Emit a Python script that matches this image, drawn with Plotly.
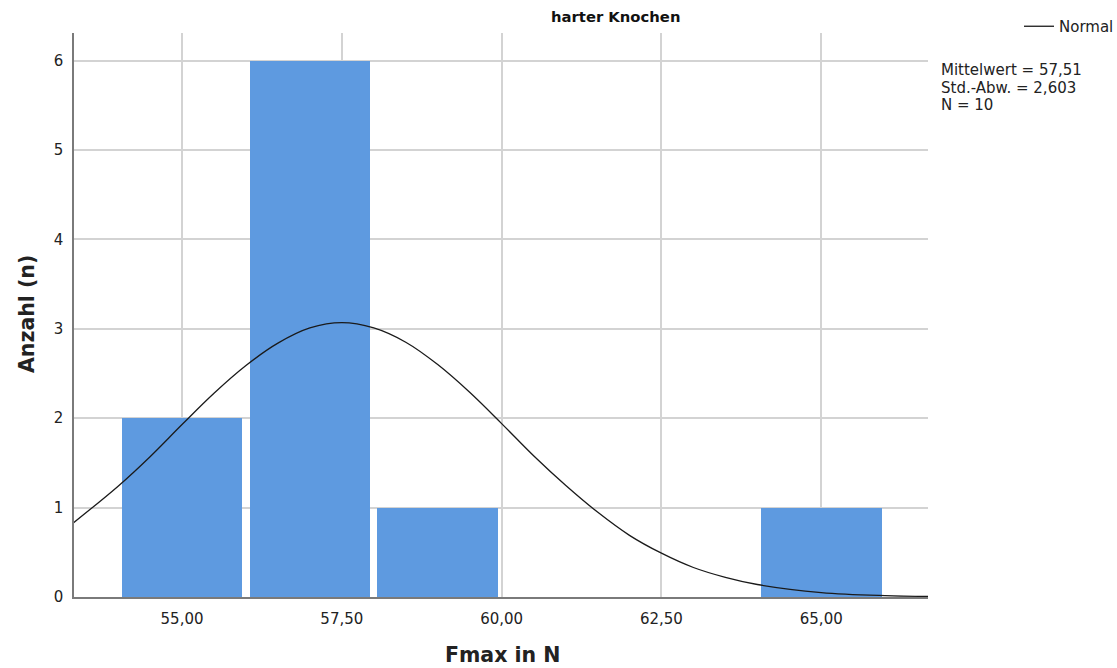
import plotly.graph_objects as go

# Histogram bins (Fmax in N) and counts
bin_centers = [55.0, 57.0, 59.0, 65.0]
counts = [2, 6, 1, 1]
bin_width = 2.0

# Normal curve
curve_x = [53.3, 54.0, 54.5, 55.0, 55.5, 56.0, 56.5, 57.0, 57.5, 58.0, 58.5, 59.0,
           59.5, 60.0, 60.5, 61.0, 61.5, 62.0, 62.5, 63.0, 63.5, 64.0, 65.0, 66.0, 66.7]
curve_y = [0.83, 1.24, 1.57, 1.93, 2.28, 2.59, 2.84, 3.01, 3.07, 3.01, 2.85, 2.60,
           2.29, 1.94, 1.58, 1.25, 0.95, 0.69, 0.49, 0.33, 0.22, 0.14, 0.05, 0.015, 0.006]

x_ticks = [55.0, 57.5, 60.0, 62.5, 65.0]
y_ticks = [0, 1, 2, 3, 4, 5, 6]
stats_lines = ["Mittelwert = 57,51", "Std.-Abw. = 2,603", "N = 10"]

FONT = "DejaVu Sans"
W, H = 1117, 668
L, R, T, B = 74, 189, 33, 71
PW, PH = W - L - R, H - T - B


def px(xp):
    return (xp - L) / PW


def py(yp):
    return (H - B - yp) / PH


fig = go.Figure()
fig.add_trace(go.Bar(
    x=bin_centers, y=counts, width=[bin_width * 0.944] * len(counts),
    marker=dict(color="#5E9AE0", line=dict(width=0)),
    showlegend=False, hoverinfo="skip",
))
fig.add_trace(go.Scatter(
    x=curve_x, y=curve_y, mode="lines", name="Normal",
    line=dict(color="#1a1a1a", width=1.3, shape="spline", smoothing=1.0),
))

annotations = [
    dict(text="<b>harter Knochen</b>", x=px(615), xref="paper", y=py(17), yref="paper",
         xanchor="center", yanchor="middle", showarrow=False,
         font=dict(family=FONT, size=14.8, color="#111")),
    dict(text="<b>Fmax in N</b>", x=px(502), xref="paper", y=py(655), yref="paper",
         xanchor="center", yanchor="middle", showarrow=False,
         font=dict(family=FONT, size=20.5, color="#222")),
    dict(text="<b>Anzahl (n)</b>", x=px(27), xref="paper", y=py(314), yref="paper",
         xanchor="center", yanchor="middle", textangle=-90, showarrow=False,
         font=dict(family=FONT, size=20.5, color="#222")),
]
for i, line in enumerate(stats_lines):
    annotations.append(dict(
        text=line, x=px(939), xref="paper", y=py(70 + 17.6 * i), yref="paper",
        xanchor="left", yanchor="middle", align="left", showarrow=False,
        font=dict(family=FONT, size=15, color="#222")))

fig.update_layout(
    width=W, height=H,
    margin=dict(l=L, r=R, t=T, b=B, autoexpand=False),
    paper_bgcolor="white", plot_bgcolor="white",
    separators=",.",
    font=dict(family=FONT, size=12, color="#222"),
    bargap=0,
    legend=dict(x=px(1019), y=py(10), xanchor="left", yanchor="top",
                font=dict(family=FONT, size=15, color="#222"),
                bgcolor="rgba(0,0,0,0)", itemwidth=30),
    xaxis=dict(range=[53.31, 66.67], tickvals=x_ticks, tickformat=".2f",
               showgrid=True, gridcolor="#d3d3d3", gridwidth=1.5,
               showline=True, linecolor="#7a7a7a", linewidth=1.5,
               ticks="", ticklabelstandoff=7, zeroline=False,
               tickfont=dict(family=FONT, size=15, color="#222")),
    yaxis=dict(range=[0, 6.31], tickvals=y_ticks,
               showgrid=True, gridcolor="#d3d3d3", gridwidth=1.5,
               showline=True, linecolor="#7a7a7a", linewidth=1.5,
               ticks="", ticklabelstandoff=6, zeroline=False,
               tickfont=dict(family=FONT, size=15, color="#222")),
    annotations=annotations,
)

fig.write_html("out.html")
